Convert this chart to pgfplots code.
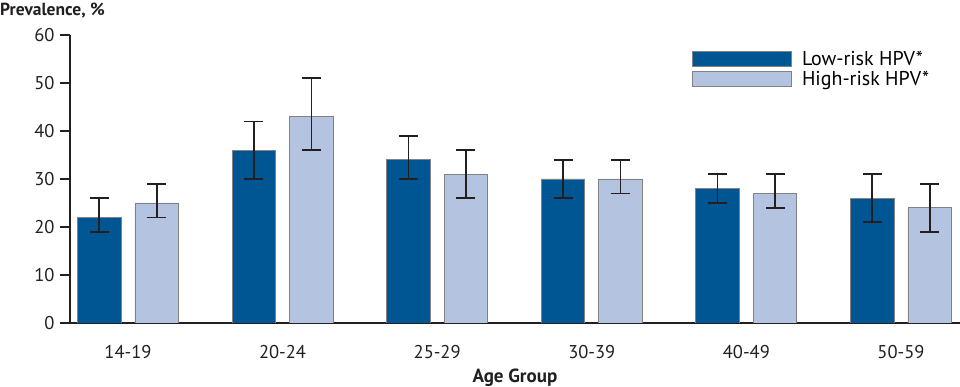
\documentclass[border=0pt]{standalone}
\usepackage{fontspec}
\setmainfont{PT Sans}
\usepackage{pgfplots}
\pgfplotsset{compat=1.18}
\usepackage{pgfplotstable}
\definecolor{darkb}{HTML}{005593}
\definecolor{lightb}{HTML}{B4C3DF}
\definecolor{edge}{HTML}{808285}
\definecolor{axc}{HTML}{231F20}
\pgfplotstableread{
x y ep em
0 22 4 3
1 36 6 6
2 34 5 4
3 30 4 4
4 28 3 3
5 26 5 5
}\lowrisk
\pgfplotstableread{
x y ep em
0 25 4 3
1 43 8 7
2 31 5 5
3 30 4 3
4 27 4 3
5 24 5 5
}\highrisk
\begin{document}
\begin{tikzpicture}
\path[use as bounding box] (-70bp,-64bp) rectangle (890bp,323bp);
\begin{axis}[
  at={(0,0)}, anchor=south west,
  scale only axis, width=890bp, height=288bp,
  xmin=-0.375, xmax=5.382, ymin=0, ymax=60,
  ybar=14bp, bar width=43.5bp,
  axis x line*=bottom, axis y line*=left,
  x axis line style={line width=2.2bp, color=axc, -},
  y axis line style={line width=1.5bp, color=axc, -},
  xtick=data, xticklabels={14-19,20-24,25-29,30-39,40-49,50-59},
  xtick style={draw=none},
  ytick={0,10,...,60},
  ytick style={line width=1.5bp, color=axc},
  tick align=outside, major tick length=10bp,
  yticklabel style={xshift=-2bp},
  xticklabel style={yshift=-9bp},
  tick label style={font=\fontsize{18.5bp}{20bp}\selectfont, color=axc},
  /pgf/number format/assume math mode=true,
  xlabel={\textbf{Age Group}},
  xlabel style={font=\fontsize{19bp}{21bp}\selectfont, color=axc, yshift=-3bp},
  legend style={at={(0.6989,0.9514)}, anchor=north west, draw=none, fill=none,
    inner sep=0pt, font=\fontsize{20bp}{22bp}\selectfont, row sep=0bp},
  legend cell align=left,
  legend image code/.code={\draw[#1] (0bp,-7.5bp) rectangle (99bp,7.5bp);},
  error bars/error bar style={line width=1.6bp, color=axc},
  error bars/error mark options={rotate=90, mark size=9.5bp, line width=1.6bp, color=axc},
]
\addplot[fill=darkb, draw=edge, line width=0.8bp,
  error bars/.cd, y dir=both, y explicit]
  table[x=x, y=y, y error plus=ep, y error minus=em] {\lowrisk};
\addplot[fill=lightb, draw=edge, line width=0.8bp,
  error bars/.cd, y dir=both, y explicit]
  table[x=x, y=y, y error plus=ep, y error minus=em] {\highrisk};
\legend{\hspace{8bp}Low-risk HPV*, \hspace{8bp}High-risk HPV*}
\end{axis}
\node[anchor=north west, inner sep=0pt, font=\fontsize{17.5bp}{19bp}\selectfont\bfseries, color=axc] at (-70bp,320bp) {Prevalence, \%};
\end{tikzpicture}
\end{document}
